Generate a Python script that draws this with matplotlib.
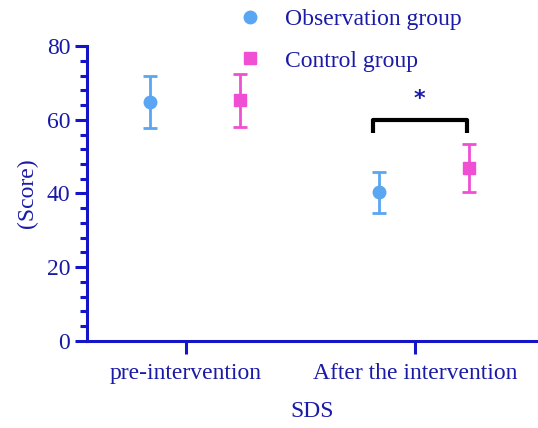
import matplotlib
matplotlib.use("Agg")
import matplotlib.pyplot as plt
from matplotlib.ticker import MultipleLocator
from matplotlib.lines import Line2D

categories = ["pre-intervention", "After the intervention"]
obs_mean = [64.9, 40.3]
obs_sd = [7.1, 5.6]
ctrl_mean = [65.3, 46.8]
ctrl_sd = [7.2, 6.5]
yticks = [0, 20, 40, 60, 80]
group_names = ["Observation group", "Control group"]

blue = "#5aa6f2"
pink = "#f04fd4"
axc = "#1414c8"
txtc = "#1a1aa8"
fs = 17

plt.rcParams['font.family'] = ['Liberation Serif', 'DejaVu Serif']

fig = plt.figure(figsize=(5.38, 4.28), dpi=100)
ax = fig.add_axes([0.1617, 0.2033, 0.8383, 0.6892])

xpos = [0, 1]
off_obs, off_ctrl = -0.155, 0.235
ax.errorbar([x + off_obs for x in xpos], obs_mean, yerr=obs_sd, fmt='o', color=blue,
            ms=9, elinewidth=2, capsize=5, capthick=2)
ax.errorbar([x + off_ctrl for x in xpos], ctrl_mean, yerr=ctrl_sd, fmt='s', color=pink,
            ms=8.5, elinewidth=2, capsize=5, capthick=2)

# significance bracket
bx0, bx1 = 1 + off_obs - 0.03, 1 + off_ctrl - 0.01
ax.plot([bx0, bx0, bx1, bx1], [56.3, 60, 60, 56.3], color='black', lw=3, solid_capstyle='butt')
ax.text((bx0 + bx1) / 2, 65.5, "*", ha='center', va='center', color=txtc, fontsize=16,
        family='DejaVu Sans', fontweight='bold')

ax.set_xlim(-0.432, 1.537)
ax.set_ylim(0, 80)
ax.set_xticks(xpos)
ax.set_xticklabels(categories)
ax.set_yticks(yticks)
ax.yaxis.set_minor_locator(MultipleLocator(4))

for s in ['top', 'right']:
    ax.spines[s].set_visible(False)
for s in ['left', 'bottom']:
    ax.spines[s].set_color(axc)
    ax.spines[s].set_linewidth(2.2)
ax.tick_params(axis='both', which='major', colors=axc, width=2.2, length=9,
               labelsize=fs, labelcolor=txtc, pad=3)
ax.tick_params(axis='x', pad=7)
ax.tick_params(axis='y', which='minor', colors=axc, width=2.2, length=5)

ax.set_xlabel("SDS", fontsize=fs, color=txtc, labelpad=12)
ax.set_ylabel("(Score)", fontsize=fs, color=txtc, labelpad=6)

handles = [Line2D([], [], ls='none', marker='o', color=blue, ms=9),
           Line2D([], [], ls='none', marker='s', color=pink, ms=8.5)]
fig.legend(handles, group_names, loc='upper left', bbox_to_anchor=(0.399, 1.03),
           frameon=False, fontsize=fs, labelcolor=txtc, handletextpad=0.9,
           labelspacing=0.85, handlelength=1.2)

fig.savefig("out.png", dpi=100)
